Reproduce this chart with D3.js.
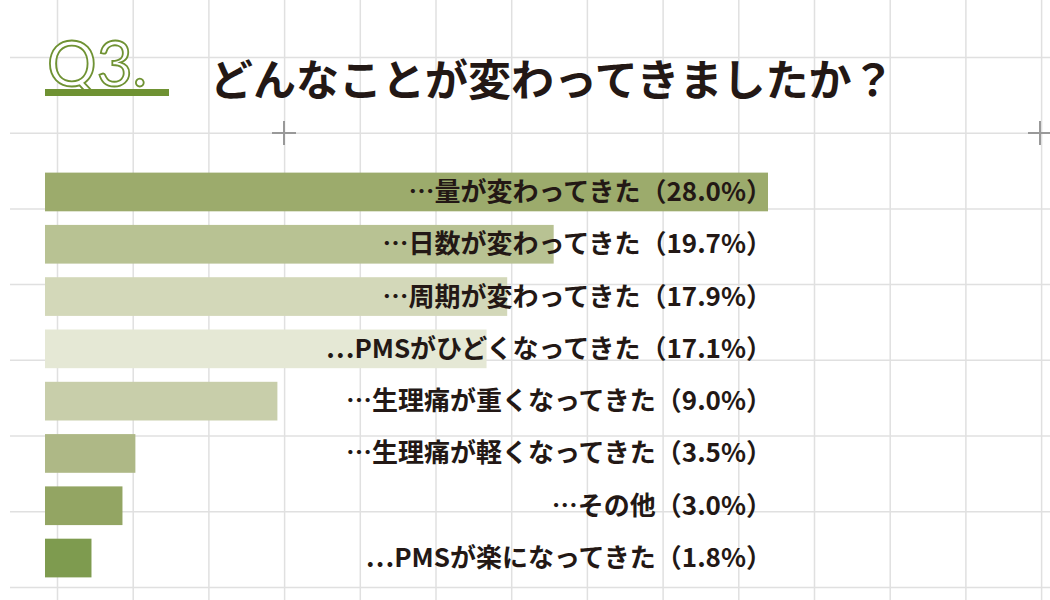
<!DOCTYPE html>
<html><head><meta charset="utf-8">
<script src="https://cdn.jsdelivr.net/npm/d3@7"></script>
<style>body{margin:0;background:#fff}</style>
</head><body><svg></svg>
<script>
// データ
const labels = ["…量が変わってきた（28.0%）","…日数が変わってきた（19.7%）","…周期が変わってきた（17.9%）","…PMSがひどくなってきた（17.1%）","…生理痛が重くなってきた（9.0%）","…生理痛が軽くなってきた（3.5%）","…その他（3.0%）","…PMSが楽になってきた（1.8%）"];
const values = [28.0, 19.7, 17.9, 17.1, 9.0, 3.5, 3.0, 1.8];
const colors = ["#9cab6c","#b8c293","#d3d8b9","#e5e8d5","#c8ceaa","#aeb886","#93a563","#7e9b4f"];

const width = 1050, height = 600;
const svg = d3.select("svg").attr("width", width).attr("height", height);

// グリッド
const grid = svg.append("g").attr("stroke", "#e0e0e0").attr("stroke-width", 1.5);
d3.range(57.5, width, 75.7).forEach(x => grid.append("line").attr("x1", x).attr("x2", x).attr("y1", 0).attr("y2", height));
d3.range(57.5, height, 75.7).forEach(y => grid.append("line").attr("y1", y).attr("y2", y).attr("x1", 10).attr("x2", width));
[[284,133],[1040,133]].forEach(([x,y]) => {
  svg.append("path").attr("d", `M${x-12},${y}H${x+12}M${x},${y-12}V${y+12}`).attr("stroke", "#999").attr("stroke-width", 2);
});

// タイトル
svg.append("text").attr("x", 47).attr("y", 86).text("Q3.")
  .attr("font-family", "Lato, sans-serif").attr("font-size", 62).attr("font-weight", 400)
  .attr("fill", "#fff").attr("stroke", "#6f9233").attr("stroke-width", 1.8);
svg.append("rect").attr("x", 45).attr("y", 89).attr("width", 124).attr("height", 7).attr("fill", "#6f9233");
svg.append("text").attr("x", 210).attr("y", 96).text("どんなことが変わってきましたか？")
  .attr("font-family", "'Noto Sans CJK JP'").attr("font-size", 43).attr("font-weight", 700).attr("fill", "#231815");

// スケール
const x = d3.scaleLinear().domain([0, 28]).range([45, 768]);
const y = d3.scaleBand().domain(labels).range([170, 580]).paddingInner(0.26).paddingOuter(0.05);

svg.append("g").selectAll("rect").data(values).join("rect")
  .attr("x", x(0)).attr("y", (d, i) => y(labels[i]))
  .attr("width", d => x(d) - x(0)).attr("height", y.bandwidth())
  .attr("fill", (d, i) => colors[i]);

svg.append("g").selectAll("text").data(labels).join("text")
  .attr("x", 772).attr("y", d => y(d) + y.bandwidth() / 2 + 9)
  .attr("text-anchor", "end").text(d => d)
  .attr("font-family", "'Noto Sans CJK JP'").attr("font-size", 26).attr("font-weight", 700).attr("fill", "#231815");
</script></body></html>
